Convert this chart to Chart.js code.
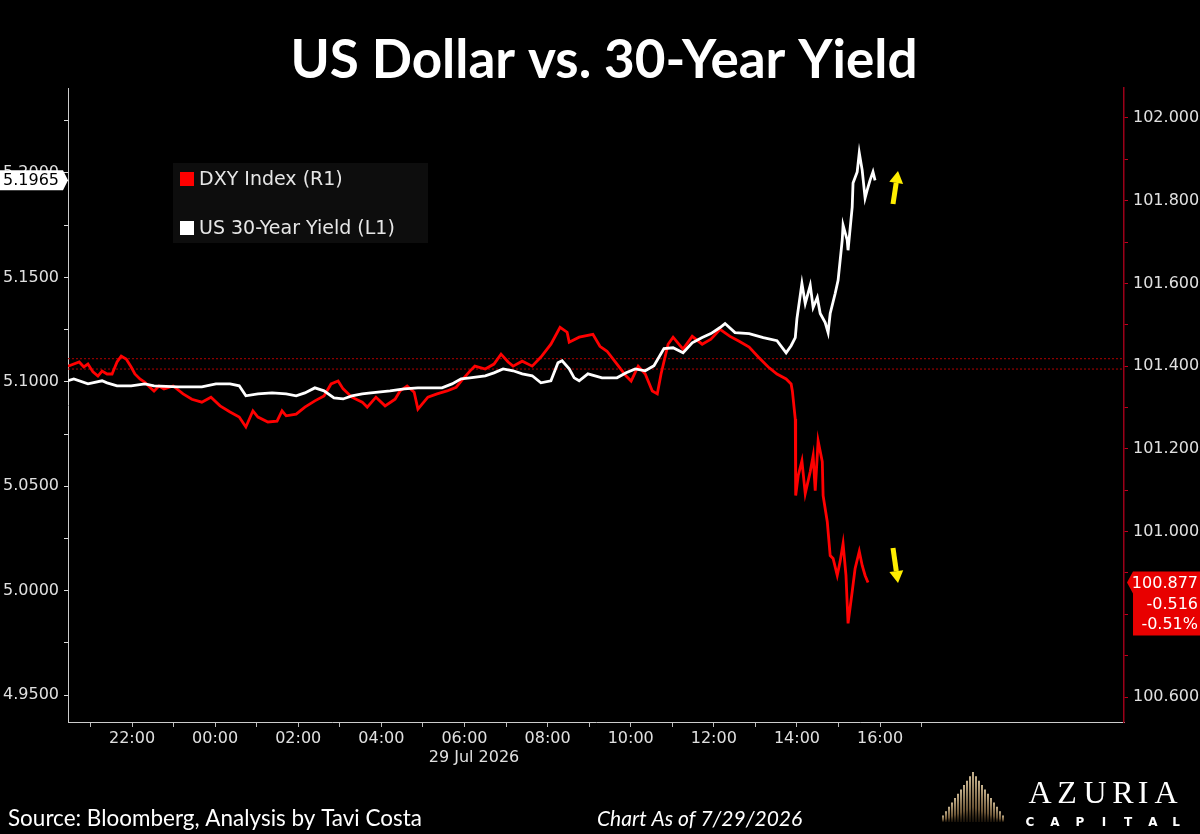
<!DOCTYPE html>
<html>
<head>
<meta charset="utf-8">
<title>US Dollar vs. 30-Year Yield</title>
<script src="https://cdn.jsdelivr.net/npm/chart.js@4.4.1/dist/chart.umd.min.js"></script>
<style>
  html, body { margin: 0; padding: 0; background: #000; }
  #wrap { width: 1200px; height: 834px; }
</style>
</head>
<body>
<div id="wrap"><canvas id="chart" width="1200" height="834"></canvas></div>
<script>
// times are hours from 00:00 on 29 Jul 2026 (negative = evening of 28 Jul)
const yieldTimes = [-3.54,-3.40,-3.06,-2.72,-2.60,-2.36,-2.02,-1.69,-1.47,-0.89,
  -0.32,0.02,0.36,0.58,0.74,1.03,1.37,1.71,1.95,2.16,
  2.40,2.62,2.86,3.08,3.29,3.54,3.75,4.21,4.55,4.88,
  5.24,5.46,5.70,5.92,6.13,6.50,6.71,6.93,7.17,7.39,
  7.63,7.84,8.08,8.25,8.35,8.52,8.64,8.76,8.97,9.31,
  9.67,9.89,10.11,10.35,10.56,10.80,11.02,11.26,11.48,11.72,
  11.93,12.15,12.27,12.51,12.85,13.19,13.52,13.74,13.86,13.96,
  14.00,14.12,14.20,14.32,14.39,14.49,14.56,14.68,14.75,14.80,
  14.92,14.99,15.09,15.11,15.21,15.23,15.33,15.35,15.45,15.50,
  15.57,15.64,15.69,15.76,15.83,15.88];
const yieldValues = [5.1005,5.1014,5.0990,5.1005,5.0995,5.0981,5.0981,5.0990,5.0981,5.0976,
  5.0976,5.0990,5.0990,5.0981,5.0933,5.0942,5.0947,5.0942,5.0933,5.0947,
  5.0971,5.0957,5.0923,5.0918,5.0933,5.0942,5.0947,5.0957,5.0966,5.0971,
  5.0971,5.0971,5.0990,5.1014,5.1019,5.1029,5.1043,5.1062,5.1053,5.1038,
  5.1029,5.0995,5.1005,5.1091,5.1101,5.1062,5.1019,5.1005,5.1038,5.1019,
  5.1019,5.1043,5.1062,5.1053,5.1077,5.1159,5.1163,5.1139,5.1187,5.1212,
  5.1231,5.1260,5.1279,5.1236,5.1231,5.1212,5.1197,5.1139,5.1173,5.1212,
  5.1303,5.1471,5.1375,5.1462,5.1356,5.1404,5.1327,5.1284,5.1236,5.1327,
  5.1423,5.1486,5.1678,5.1750,5.1678,5.1630,5.1837,5.1952,5.2005,5.2096,
  5.2014,5.1880,5.1918,5.1966,5.2005,5.1965];

const dxyTimes = [-3.54,-3.27,-3.16,-3.06,-2.94,-2.82,-2.72,-2.60,-2.48,-2.36,
  -2.26,-2.14,-2.02,-1.93,-1.81,-1.69,-1.57,-1.47,-1.35,-1.23,
  -1.01,-0.77,-0.56,-0.32,-0.10,0.12,0.36,0.58,0.74,0.91,
  1.03,1.27,1.49,1.61,1.71,1.95,2.16,2.40,2.62,2.79,
  2.96,3.08,3.29,3.54,3.66,3.87,4.09,4.33,4.45,4.62,
  4.79,4.88,5.12,5.34,5.58,5.80,5.92,6.13,6.25,6.50,
  6.71,6.88,7.05,7.17,7.39,7.63,7.84,8.08,8.30,8.47,
  8.52,8.76,9.09,9.26,9.43,9.67,9.89,10.01,10.18,10.35,
  10.52,10.64,10.73,10.90,11.02,11.26,11.48,11.72,11.93,12.15,
  12.39,12.61,12.85,13.07,13.31,13.52,13.74,13.86,13.89,13.96,
  13.97,14.03,14.12,14.20,14.32,14.39,14.44,14.51,14.61,14.63,
  14.73,14.80,14.87,14.97,15.04,15.11,15.18,15.23,15.33,15.40,
  15.50,15.57,15.64,15.71];
const dxyValues = [101.400,101.410,101.398,101.405,101.386,101.376,101.388,101.381,101.381,101.410,
  101.424,101.417,101.398,101.381,101.369,101.361,101.349,101.340,101.352,101.345,
  101.352,101.333,101.320,101.313,101.325,101.304,101.289,101.277,101.253,101.292,
  101.277,101.265,101.267,101.292,101.280,101.284,101.301,101.316,101.328,101.357,
  101.364,101.345,101.325,101.313,101.301,101.325,101.304,101.320,101.340,101.352,
  101.337,101.296,101.325,101.333,101.340,101.349,101.364,101.388,101.400,101.393,
  101.405,101.429,101.410,101.400,101.412,101.400,101.422,101.453,101.494,101.482,
  101.458,101.470,101.477,101.448,101.436,101.405,101.376,101.364,101.400,101.381,
  101.340,101.333,101.381,101.453,101.470,101.441,101.472,101.453,101.465,101.489,
  101.472,101.460,101.446,101.422,101.398,101.381,101.369,101.357,101.340,101.272,
  101.087,101.135,101.171,101.092,101.145,101.183,101.099,101.219,101.169,101.087,
  101.024,100.942,100.935,100.894,100.928,100.971,100.894,100.778,100.855,100.911,
  100.952,100.918,100.894,100.877];

// dotted reference levels on the DXY axis
const refLevels = [101.418, 101.393];

const hourTicks = [-3,-2,-1,0,1,2,3,4,5,6,7,8,9,10,11,12,13,14,15,16,17];
const leftTicks = [4.95,4.975,5.0,5.025,5.05,5.075,5.1,5.125,5.15,5.175,5.2,5.225];
const rightTicks = [100.6,100.7,100.8,100.9,101.0,101.1,101.2,101.3,101.4,101.5,101.6,101.7,101.8,101.9,102.0];

const lastYield = 5.1965;
const lastDxy = 100.877;
const dxyChange = ['-0.516', '-0.51%'];

const xMin = -3.54, xMax = 21.87;

const tickFont = { family: 'DejaVu Sans', size: 16 };

function pts(xs, ys) {
  return xs.map(function (x, i) { return { x: x, y: ys[i] }; });
}

function hourLabel(v) {
  if (Math.round(v) % 2 !== 0) return '';
  let h = ((Math.round(v) % 24) + 24) % 24;
  return (h < 10 ? '0' : '') + h + ':00';
}

function arrow(ctx, x1, y1, x2, y2) {
  let a = Math.atan2(y2 - y1, x2 - x1);
  let hl = 12, hw = 7;
  let bx = x2 - Math.cos(a) * hl, by = y2 - Math.sin(a) * hl;
  ctx.strokeStyle = '#ffee00';
  ctx.fillStyle = '#ffee00';
  ctx.lineWidth = 5;
  ctx.beginPath();
  ctx.moveTo(x1, y1);
  ctx.lineTo(bx, by);
  ctx.stroke();
  ctx.beginPath();
  ctx.moveTo(x2, y2);
  ctx.lineTo(bx + Math.sin(a) * hw, by - Math.cos(a) * hw);
  ctx.lineTo(bx - Math.sin(a) * hw, by + Math.cos(a) * hw);
  ctx.closePath();
  ctx.fill();
}

const decor = {
  id: 'decor',
  afterDraw: function (chart) {
    const ctx = chart.ctx;
    const yL = chart.scales.yL, yR = chart.scales.yR;
    ctx.save();

    // title
    ctx.fillStyle = '#fff';
    ctx.font = 'bold 53px Lato';
    ctx.textAlign = 'center';
    ctx.textBaseline = 'alphabetic';
    ctx.fillText('US Dollar vs. 30-Year Yield', 604, 78, 630);

    // legend
    ctx.fillStyle = '#0d0d0d';
    ctx.fillRect(173, 163, 255, 80);
    ctx.fillStyle = '#ff0000';
    ctx.fillRect(180, 172, 14, 14);
    ctx.fillStyle = '#ffffff';
    ctx.fillRect(180, 221, 14, 14);
    ctx.font = '19px "DejaVu Sans"';
    ctx.textAlign = 'left';
    ctx.textBaseline = 'middle';
    ctx.fillStyle = '#e6e6e6';
    ctx.fillText('DXY Index (R1)', 199, 180);
    ctx.fillText('US 30-Year Yield (L1)', 199, 229);

    // last value on left axis
    let ly = yL.getPixelForValue(lastYield);
    ctx.fillStyle = '#fff';
    ctx.beginPath();
    ctx.moveTo(0, ly - 10);
    ctx.lineTo(63, ly - 10);
    ctx.lineTo(68, ly);
    ctx.lineTo(63, ly + 10);
    ctx.lineTo(0, ly + 10);
    ctx.closePath();
    ctx.fill();
    ctx.fillStyle = '#000';
    ctx.font = '16px "DejaVu Sans"';
    ctx.textAlign = 'right';
    ctx.fillText(lastYield.toFixed(4), 59, ly + 1);

    // last value on right axis
    let ry = yR.getPixelForValue(lastDxy);
    ctx.fillStyle = '#e80000';
    ctx.beginPath();
    ctx.moveTo(1127, ry);
    ctx.lineTo(1133, ry - 11);
    ctx.lineTo(1200, ry - 11);
    ctx.lineTo(1200, ry + 53);
    ctx.lineTo(1133, ry + 53);
    ctx.lineTo(1133, ry + 11);
    ctx.closePath();
    ctx.fill();
    ctx.fillStyle = '#fff';
    ctx.fillText(lastDxy.toFixed(3), 1198, ry + 1);
    ctx.fillText(dxyChange[0], 1198, ry + 22);
    ctx.fillText(dxyChange[1], 1198, ry + 42);

    // date under time axis
    ctx.fillStyle = '#e0e0e0';
    ctx.textAlign = 'center';
    ctx.fillText('29 Jul 2026', 474, 758);

    // yellow arrows
    arrow(ctx, 893, 204, 898, 171);
    arrow(ctx, 893, 548, 898, 583);

    // footer
    ctx.fillStyle = '#fff';
    ctx.textBaseline = 'alphabetic';
    ctx.textAlign = 'left';
    ctx.font = '23px Lato';
    ctx.fillText('Source: Bloomberg, Analysis by Tavi Costa', 8, 826, 414);
    ctx.font = 'italic 21px Lato';
    ctx.fillText('Chart As of 7/29/2026', 597, 826, 210);

    // logo
    for (let i = 0; i <= 20; i++) {
      let x = 943 + i * 3;
      let top = 772 + Math.abs(x - 973) * 1.45;
      let g = ctx.createLinearGradient(0, top, 0, 822);
      g.addColorStop(0, 'rgba(250,225,180,1)');
      g.addColorStop(0.7, 'rgba(190,150,95,0.7)');
      g.addColorStop(1, 'rgba(110,80,40,0.25)');
      ctx.strokeStyle = g;
      ctx.lineWidth = 1.6;
      ctx.beginPath();
      ctx.moveTo(x, top);
      ctx.lineTo(x, 822);
      ctx.stroke();
    }
    ctx.fillStyle = '#fff';
    ctx.font = '32px "Liberation Serif"';
    ctx.textAlign = 'center';
    const az = ['A', 'Z', 'U', 'R', 'I', 'A'];
    const azX = [1040, 1067, 1095, 1123, 1143, 1166];
    az.forEach(function (c, i) { ctx.fillText(c, azX[i], 803); });
    ctx.font = 'bold 12px "DejaVu Sans"';
    const cap = ['C', 'A', 'P', 'I', 'T', 'A', 'L'];
    const capX = [1030, 1055, 1080, 1104, 1128, 1153, 1176];
    cap.forEach(function (c, i) { ctx.fillText(c, capX[i], 826); });

    ctx.restore();
  }
};

const refData = refLevels.map(function (v) {
  return { x: [xMin, xMax], y: [v, v] };
});

new Chart(document.getElementById('chart'), {
  type: 'line',
  data: {
    datasets: [
      {
        label: 'US 30-Year Yield (L1)',
        data: pts(yieldTimes, yieldValues),
        yAxisID: 'yL',
        borderColor: '#ffffff',
        borderWidth: 2.8,
        pointRadius: 0,
        tension: 0,
        order: 0
      },
      {
        label: 'DXY Index (R1)',
        data: pts(dxyTimes, dxyValues),
        yAxisID: 'yR',
        borderColor: '#ff0000',
        borderWidth: 2.8,
        pointRadius: 0,
        tension: 0,
        order: 1
      },
      {
        label: 'ref1',
        data: pts(refData[0].x, refData[0].y),
        yAxisID: 'yR',
        borderColor: '#b00000',
        borderWidth: 1,
        borderDash: [2, 2],
        pointRadius: 0,
        order: 5
      },
      {
        label: 'ref2',
        data: pts(refData[1].x, refData[1].y),
        yAxisID: 'yR',
        borderColor: '#b00000',
        borderWidth: 1,
        borderDash: [2, 2],
        pointRadius: 0,
        order: 5
      }
    ]
  },
  options: {
    responsive: false,
    animation: false,
    devicePixelRatio: 1,
    layout: { padding: { top: 88, left: 0, right: 0, bottom: 0 } },
    plugins: {
      legend: { display: false },
      tooltip: { enabled: false },
      title: { display: false }
    },
    scales: {
      x: {
        type: 'linear',
        min: xMin,
        max: xMax,
        afterBuildTicks: function (axis) {
          axis.ticks = hourTicks.map(function (v) { return { value: v }; });
        },
        afterFit: function (s) { s.height = 112; },
        ticks: {
          autoSkip: false,
          maxRotation: 0,
          padding: 2,
          color: '#e0e0e0',
          font: tickFont,
          callback: function (v) { return hourLabel(v); }
        },
        grid: { drawOnChartArea: false, drawTicks: true, tickLength: 5, color: '#bbbbbb' },
        border: { color: '#cccccc', width: 1 }
      },
      yL: {
        type: 'linear',
        position: 'left',
        min: 4.9371,
        max: 5.2407,
        afterBuildTicks: function (axis) {
          axis.ticks = leftTicks.map(function (v) { return { value: v }; });
        },
        afterFit: function (s) { s.width = 68; },
        ticks: {
          padding: 5,
          color: '#e0e0e0',
          font: tickFont,
          callback: function (v, i) { return i % 2 === 0 ? v.toFixed(4) : ''; }
        },
        grid: { drawOnChartArea: false, drawTicks: true, tickLength: 4, color: '#dddddd' },
        border: { color: '#cccccc', width: 1 }
      },
      yR: {
        type: 'linear',
        position: 'right',
        min: 100.5396,
        max: 102.0725,
        afterBuildTicks: function (axis) {
          axis.ticks = rightTicks.map(function (v) { return { value: v }; });
        },
        afterFit: function (s) { s.width = 76; },
        ticks: {
          padding: 5,
          color: '#e0e0e0',
          font: tickFont,
          callback: function (v, i) { return i % 2 === 0 ? v.toFixed(3) : ''; }
        },
        grid: { drawOnChartArea: false, drawTicks: true, tickLength: 4, color: '#c0001e' },
        border: { color: '#9a0018', width: 1.5 }
      }
    }
  },
  plugins: [decor]
});
</script>
</body>
</html>
